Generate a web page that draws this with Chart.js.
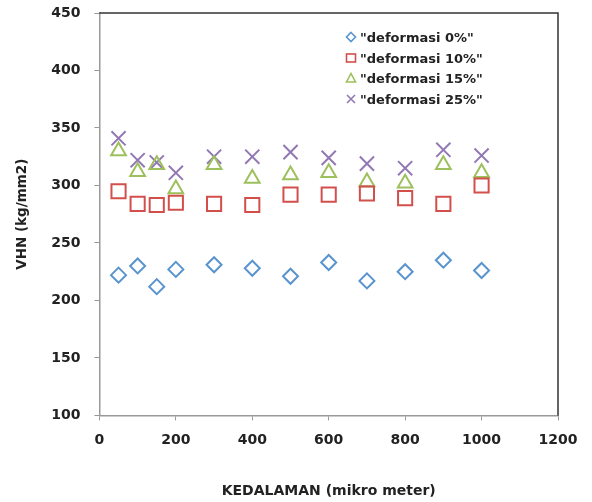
<!DOCTYPE html>
<html lang="id">
<head>
    <meta charset="UTF-8">
    <title>VHN vs Kedalaman</title>
    <style>
        body {
            margin: 0;
            padding: 0;
            background: #ffffff;
        }
        #wrap {
            position: relative;
            width: 592px;
            height: 502px;
        }
        #legend {
            position: absolute;
            left: 345px;
            top: 28px;
            font-family: "DejaVu Sans", sans-serif;
            font-weight: bold;
            font-size: 13px;
            color: #222;
        }
        #legend .row {
            height: 20.7px;
            line-height: 20.7px;
            white-space: nowrap;
        }
        #legend svg {
            vertical-align: middle;
            margin-right: 3px;
            margin-top: -3px;
        }
    </style>
    <script src="https://cdn.jsdelivr.net/npm/chart.js"></script>
</head>
<body>
<div id="wrap">
    <canvas id="vhnChart" width="592" height="502"></canvas>
    <div id="legend"></div>
</div>

<script>
    // data
    var depth = [50, 100, 150, 200, 300, 400, 500, 600, 700, 800, 900, 1000];
    var def0  = [222, 230, 212, 227, 231, 228, 221, 233, 217, 225, 235, 226];
    var def10 = [295, 284, 283, 285, 284, 283, 292, 292, 293, 289, 284, 300];
    var def15 = [330, 312, 318, 297, 318, 306, 309, 311, 303, 302, 318, 311];
    var def25 = [341, 322, 320, 311, 325, 325, 329, 324, 319, 315, 331, 326];

    var seriesNames = ['"deformasi 0%"', '"deformasi 10%"', '"deformasi 15%"', '"deformasi 25%"'];
    var seriesValues = [def0, def10, def15, def25];
    var colors = ['#5a94cf', '#d24f4c', '#9dc05c', '#9278b4'];
    var shapes = ['rectRot', 'rect', 'triangle', 'crossRot'];
    var sizes = [7.5, 10, 8.5, 10];

    var yMin = 100, yMax = 450, yStep = 50;
    var xMin = 0, xMax = 1200, xStep = 200;

    function toPoints(vals) {
        var pts = [];
        for (var i = 0; i < depth.length; i++) {
            pts.push({ x: depth[i], y: vals[i] });
        }
        return pts;
    }

    var datasets = [];
    for (var s = 0; s < seriesNames.length; s++) {
        datasets.push({
            label: seriesNames[s],
            data: toPoints(seriesValues[s]),
            pointStyle: shapes[s],
            pointRadius: sizes[s],
            pointHoverRadius: sizes[s],
            borderColor: colors[s],
            backgroundColor: 'rgba(0,0,0,0)',
            pointBorderWidth: 2,
            showLine: false
        });
    }

    // garis atas dan kanan (bingkai)
    var framePlugin = {
        id: 'frame',
        afterDraw: function (chart) {
            var a = chart.chartArea;
            var ctx = chart.ctx;
            ctx.save();
            ctx.strokeStyle = '#333';
            ctx.lineWidth = 1.5;
            ctx.beginPath();
            ctx.moveTo(a.left, a.top);
            ctx.lineTo(a.right, a.top);
            ctx.lineTo(a.right, a.bottom);
            ctx.stroke();
            ctx.restore();
        }
    };

    Chart.defaults.font.family = '"DejaVu Sans", sans-serif';
    Chart.defaults.font.weight = 'bold';
    Chart.defaults.color = '#222';

    var ctx = document.getElementById('vhnChart').getContext('2d');
    var vhnChart = new Chart(ctx, {
        type: 'scatter',
        data: { datasets: datasets },
        options: {
            responsive: false,
            animation: false,
            layout: { padding: { left: 12, right: 34, top: 13, bottom: 2 } },
            plugins: {
                legend: { display: false },
                tooltip: { enabled: false }
            },
            scales: {
                x: {
                    type: 'linear',
                    min: xMin,
                    max: xMax,
                    ticks: {
                        stepSize: xStep,
                        font: { size: 14, weight: 'bold' },
                        padding: 12,
                        callback: function (v) { return String(v); }
                    },
                    grid: { drawOnChartArea: false, tickLength: 5, color: '#999' },
                    border: { color: '#999', width: 1.5 },
                    title: {
                        display: true,
                        text: 'KEDALAMAN (mikro meter)',
                        font: { size: 14, weight: 'bold' },
                        padding: { top: 22, bottom: 0 }
                    }
                },
                y: {
                    min: yMin,
                    max: yMax,
                    ticks: { stepSize: yStep, font: { size: 14, weight: 'bold' }, padding: 14 },
                    grid: { drawOnChartArea: false, tickLength: 5, color: '#999' },
                    border: { color: '#999', width: 1.5 },
                    title: {
                        display: true,
                        text: 'VHN (kg/mm2)',
                        font: { size: 13.5, weight: 'bold' },
                        padding: { top: 2, bottom: 7 }
                    },
                    // jarak label besar, tapi jangan dorong area plot ke bawah
                    afterFit: function (scale) {
                        scale.paddingTop = 8;
                        scale.paddingBottom = 8;
                    }
                }
            }
        },
        plugins: [framePlugin]
    });

    // legenda
    function markerSvg(shape, color) {
        var p = '';
        if (shape === 'rectRot') p = '<polygon points="6,1.5 10.5,6 6,10.5 1.5,6" fill="none" stroke="' + color + '" stroke-width="1.6"/>';
        if (shape === 'rect') p = '<rect x="1.5" y="2" width="9" height="8" fill="none" stroke="' + color + '" stroke-width="1.6"/>';
        if (shape === 'triangle') p = '<polygon points="6,1.5 10.5,10 1.5,10" fill="none" stroke="' + color + '" stroke-width="1.6"/>';
        if (shape === 'crossRot') p = '<path d="M2,2 L10,10 M10,2 L2,10" stroke="' + color + '" stroke-width="1.6"/>';
        return '<svg width="12" height="12">' + p + '</svg>';
    }
    var leg = document.getElementById('legend');
    for (var k = 0; k < seriesNames.length; k++) {
        var row = document.createElement('div');
        row.className = 'row';
        row.innerHTML = markerSvg(shapes[k], colors[k]);
        row.appendChild(document.createTextNode(seriesNames[k]));
        leg.appendChild(row);
    }
</script>
</body>
</html>
